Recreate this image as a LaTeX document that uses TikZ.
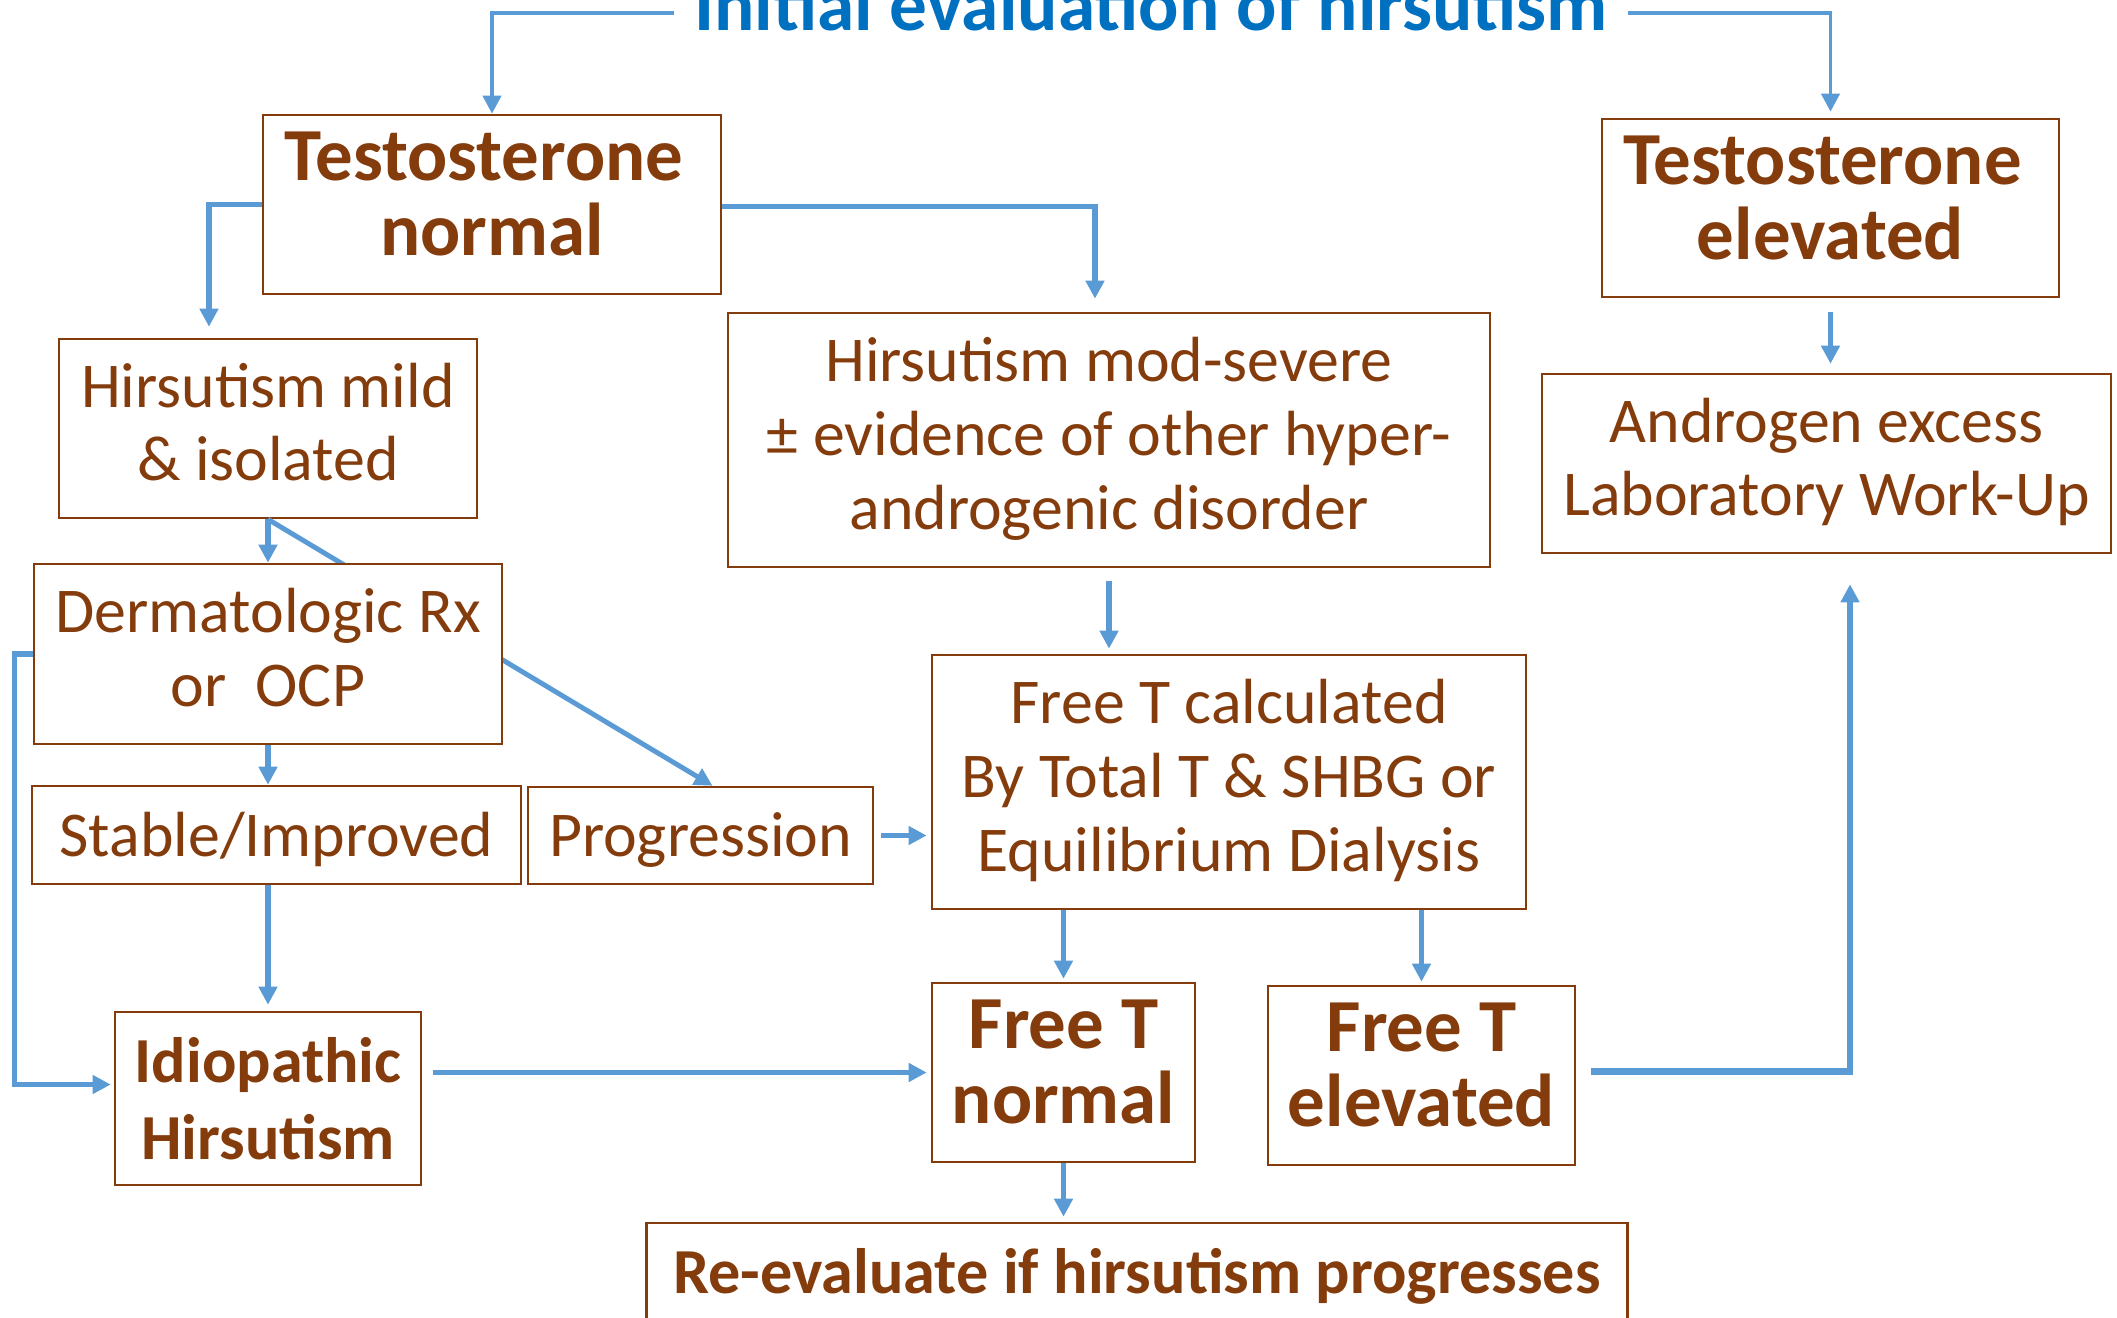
\documentclass[tikz,border=0pt]{standalone}
\usepackage{fontspec}
\setmainfont{Carlito}
\usetikzlibrary{arrows.meta}

\definecolor{txtbrown}{HTML}{843C0C}
\definecolor{linkblue}{HTML}{5B9BD5}
\definecolor{titleblue}{HTML}{0070C0}

% line boxes of a fixed size, so every box sets its lines alike
\newcommand{\plainstrut}{\rule[-3.8pt]{0pt}{21pt}}
\newcommand{\boldstrut}{\rule[-5.9pt]{0pt}{21.3pt}}

\tikzset{
    box/.style={draw=txtbrown, line width=0.7pt, fill=white, text=txtbrown,
        align=center, inner sep=0pt},
    bigbold/.style={font=\fontsize{21.3}{21.3}\selectfont\bfseries,
        execute at begin node=\boldstrut, execute at end node=\boldstrut},
    smallbold/.style={font=\fontsize{18.25}{21.8}\selectfont\bfseries},
    plain/.style={font=\fontsize{18.15}{21}\selectfont,
        execute at begin node=\plainstrut, execute at end node=\plainstrut},
    oneline/.style={font=\fontsize{18.15}{21}\selectfont, text height=0.54cm, text depth=0.12cm},
    link/.style={draw=linkblue, line width=1.6pt,
        -{Triangle[length=0.18cm,width=0.18cm]}},
    toplink/.style={link, line width=1.1pt}
}

\begin{document}
\begin{tikzpicture}[x=0.01cm, y=-0.01cm]
        \useasboundingbox (0,0) rectangle (2117,1317);
        % heading
        \node[anchor=base, text=titleblue, inner xsep=0.19cm,
            font=\fontsize{21.4}{21.4}\selectfont\bfseries] (title) at (1151,30) {Initial evaluation of hirsutism};
        % boxes
        \node[box, bigbold, minimum width=4.58cm, minimum height=1.79cm] (tn) at (492,204.5) {Testosterone\kern0.16cm\\normal};
        \node[box, bigbold, minimum width=4.57cm, minimum height=1.78cm] (te) at (1830.5,208) {Testosterone\kern0.16cm\\elevated};
        \node[box, plain, minimum width=4.18cm, minimum height=1.79cm] (hm) at (268,428.5) {Hirsutism mild\\\& isolated};
        \node[box, plain, minimum width=7.62cm, minimum height=2.54cm] (hs) at (1109,440) {Hirsutism mod-severe\\± evidence of other hyper-\\androgenic disorder};
        \node[box, plain, minimum width=5.69cm, minimum height=1.79cm] (ae) at (1826.5,463.5) {Androgen excess\\Laboratory Work-Up};
        \node[box, oneline, minimum width=4.89cm, minimum height=0.98cm] (si) at (276.5,835) {Stable/Improved};
        \node[box, oneline, minimum width=3.45cm, minimum height=0.97cm] (pg) at (700.5,835.5) {Progression};
        \node[box, plain, minimum width=5.94cm, minimum height=2.54cm] (ft) at (1229,782) {Free T calculated\\By Total T \& SHBG or\\Equilibrium Dialysis};
        \node[box, smallbold, minimum width=3.06cm, minimum height=1.73cm] (ih) at (268,1098.5) {Idiopathic\\Hirsutism};
        \node[box, bigbold, minimum width=2.63cm, minimum height=1.79cm] (fn) at (1063.5,1072.5) {Free T\\normal};
        \node[box, bigbold, minimum width=3.07cm, minimum height=1.79cm] (fe) at (1421.5,1075.5) {Free T\\elevated};
        \node[box, smallbold, text height=0.44cm, text depth=0.14cm,
            minimum width=9.80cm, minimum height=1.10cm] (re) at (1137,1278) {Re-evaluate if hirsutism progresses};
        % this one runs under the Dermatologic box
        \draw[link, line width=1.4pt] (hm.south) -- ([xshift=0.12cm]pg.north);
        \node[box, plain, minimum width=4.68cm, minimum height=1.80cm] (dr) at (268,654) {Dermatologic Rx\\or~ OCP};
        % connectors
        \draw[toplink] ([yshift=-0.09cm]title.west) -| (tn.north);
        \draw[toplink, shorten >=0.06cm] ([yshift=-0.09cm]title.east) -| (te.north);
        \draw[link, shorten >=0.11cm] (tn.west) -| ([xshift=-0.59cm]hm.north);
        \draw[link, shorten >=0.13cm] ([yshift=-0.02cm]tn.east) -| ([xshift=-0.14cm]hs.north);
        \draw[link, shorten <=0.14cm, shorten >=0.09cm] (te.south) -- (te.south |- ae.north);
        \draw[link, shorten <=0.13cm, shorten >=0.05cm] (hs.south) -- (hs.south |- ft.north);
        \draw[link] (hm.south) -- (hm.south |- dr.north);
        \draw[link] (dr.south) -- (dr.south |- si.north);
        \draw[link, shorten <=0.07cm, shorten >=0.04cm] (pg.east) -- (pg.east -| ft.west);
        \draw[link, shorten >=0.06cm] (ih.north |- si.south) -- (ih.north);
        \draw[link, shorten >=0.03cm] (dr.west) -- ++(-18,0) |- ([yshift=0.14cm]ih.west);
        \draw[link, shorten <=0.11cm, shorten >=0.04cm] (fn.west -| ih.east) -- (fn.west);
        \draw[link, shorten >=0.03cm] (fn.north |- ft.south) -- (fn.north);
        \draw[link, shorten >=0.03cm] (fe.north |- ft.south) -- (fe.north);
        \draw[link, line width=1.9pt, shorten <=0.15cm, shorten >=0.30cm] ([yshift=0.04cm]fe.east) -| ([xshift=0.235cm]ae.south);
        \draw[link, shorten >=0.05cm] (fn.south) -- (fn.south |- re.north);
\end{tikzpicture}
\end{document}
